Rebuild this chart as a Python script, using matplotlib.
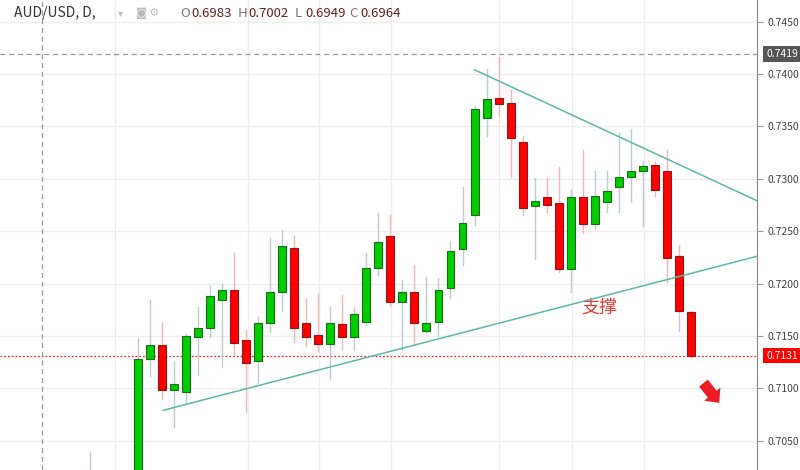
import matplotlib.pyplot as plt
from matplotlib.patches import Rectangle

plt.rcParams['font.family'] = ['Noto Sans CJK SC', 'DejaVu Sans']

# daily candles, index 0 = first big green bar
idx = [-4] + list(range(47))
opens = [0.7000, 0.6950, 0.7128, 0.7141, 0.7098, 0.7096, 0.7149, 0.7158, 0.7184, 0.7194, 0.7146,
         0.7126, 0.7162, 0.7192, 0.7234, 0.7162, 0.7151, 0.7142, 0.7161, 0.7149, 0.7163,
         0.7215, 0.7245, 0.7182, 0.7192, 0.7155, 0.7163, 0.7196, 0.7233, 0.7265, 0.7358,
         0.7377, 0.7372, 0.7335, 0.7274, 0.7283, 0.7277, 0.7214, 0.7283, 0.7257, 0.7278,
         0.7292, 0.7302, 0.7307, 0.7313, 0.7307, 0.7226, 0.7173]
highs = [0.7039, 0.7148, 0.7184, 0.7162, 0.7126, 0.7152, 0.7178, 0.7198, 0.7200, 0.7229, 0.7156,
         0.7168, 0.7243, 0.7251, 0.7245, 0.7185, 0.7191, 0.7178, 0.7189, 0.7177, 0.7229,
         0.7267, 0.7265, 0.7203, 0.7218, 0.7206, 0.7205, 0.7241, 0.7292, 0.7369, 0.7405,
         0.7416, 0.7385, 0.7341, 0.7301, 0.7301, 0.7311, 0.7289, 0.7327, 0.7307, 0.7307,
         0.7344, 0.7347, 0.7317, 0.7316, 0.7327, 0.7237, 0.7174]
lows = [0.6990, 0.6940, 0.7112, 0.7090, 0.7063, 0.7086, 0.7113, 0.7149, 0.7120, 0.7132, 0.7077,
        0.7105, 0.7154, 0.7174, 0.7144, 0.7140, 0.7135, 0.7109, 0.7137, 0.7137, 0.7160,
        0.7208, 0.7179, 0.7137, 0.7141, 0.7153, 0.7150, 0.7186, 0.7218, 0.7256, 0.7341,
        0.7360, 0.7302, 0.7265, 0.7223, 0.7268, 0.7211, 0.7192, 0.7248, 0.7252, 0.7268,
        0.7268, 0.7278, 0.7255, 0.7284, 0.7201, 0.7155, 0.7129]
closes = [0.7020, 0.7128, 0.7141, 0.7098, 0.7104, 0.7150, 0.7158, 0.7188, 0.7194, 0.7143, 0.7124,
          0.7162, 0.7192, 0.7236, 0.7158, 0.7149, 0.7142, 0.7162, 0.7149, 0.7171, 0.7215,
          0.7240, 0.7182, 0.7192, 0.7162, 0.7162, 0.7194, 0.7231, 0.7258, 0.7367, 0.7376,
          0.7371, 0.7339, 0.7272, 0.7279, 0.7275, 0.7214, 0.7283, 0.7257, 0.7284, 0.7288,
          0.7302, 0.7307, 0.7312, 0.7289, 0.7224, 0.7174, 0.7131]

# hand-drawn trend lines (index, price)
upper_line = ([28.0, 51.5], [0.7404, 0.7279])
lower_line = ([2.1, 51.5], [0.7079, 0.7226])
month_lines = [-1.9, 9.15, 15.06, 21.05, 30.03, 36.1, 42.1]
price_ticks = [0.7050, 0.7100, 0.7150, 0.7200, 0.7250, 0.7300, 0.7350, 0.7400, 0.7450]
last_close = 0.7131
high_mark = 0.7419

fig = plt.figure(figsize=(8, 4.7), dpi=100)
ax = fig.add_axes([0, 0, 757 / 800, 1])
ax.set_xlim(-11.48, 51.5)
ax.set_ylim(0.7022, 0.74706)

for x in month_lines:
    ax.axvline(x, color="#eeeeee", lw=1, zorder=0)
for p in price_ticks:
    ax.axhline(p, color="#eeeeee", lw=1, zorder=0)

for i, o, h, l, c in zip(idx, opens, highs, lows, closes):
    up = c >= o
    wick = "#b8cdd6" if up else "#f7b5b5"
    face = "#00cc00" if up else "#ff0000"
    edge = "#1a6b1a" if up else "#8b1a1a"
    ax.plot([i, i], [l, h], color=wick, lw=1, zorder=2)
    ax.add_patch(Rectangle((i - 0.33, min(o, c)), 0.66, max(abs(c - o), 0.00004),
                           facecolor=face, edgecolor=edge, lw=0.8, zorder=3))

ax.plot(*upper_line, color="#5fb8a8", lw=1.1, zorder=4)
ax.plot(*lower_line, color="#5fb8a8", lw=1.1, zorder=4)

ax.axhline(high_mark, color="#999999", lw=0.9, ls=(0, (4, 3)), zorder=1)
ax.axhline(last_close, color="#e03030", lw=0.9, ls=(0, (1.5, 1.5)), zorder=1)
ax.axvline(-8.0, color="#999999", lw=0.9, ls=(0, (4, 3)), zorder=1)

ax.text(38.4, 0.7177, "支撑", color="#e53935", fontsize=13, ha="center", va="center")
ax.annotate("", xy=(48.5, 0.7084), xytext=(46.9, 0.7107),
            arrowprops=dict(arrowstyle="simple,head_length=0.8,head_width=1.5,tail_width=0.8",
                            color="#ee1c25", lw=0), zorder=5)

ax.yaxis.tick_right()
ax.set_yticks(price_ticks)
ax.set_yticklabels([f"{p:.4f}" for p in price_ticks])
ax.tick_params(axis="y", labelsize=7.5, colors="#444444", length=4, color="#999999")
ax.set_xticks([])
for s in ["top", "left", "bottom"]:
    ax.spines[s].set_visible(False)
ax.spines["right"].set_color("#888888")

ax.text(1.012, high_mark, f"{high_mark:.4f}", transform=ax.get_yaxis_transform(),
        fontsize=7.5, color="white", va="center", ha="left",
        bbox=dict(boxstyle="square,pad=0.25", fc="#555555", ec="none"))
ax.text(1.012, last_close, f"{last_close:.4f}", transform=ax.get_yaxis_transform(),
        fontsize=7.5, color="white", va="center", ha="left",
        bbox=dict(boxstyle="square,pad=0.25", fc="#ff0000", ec="none"))

fig.text(0.018, 0.972, "AUD/USD, D,", fontsize=10, color="#333333", va="center")
fig.text(0.148, 0.972, "▾", fontsize=7, color="#bbbbbb", va="center")
fig.text(0.170, 0.972, "◙ ⚙", fontsize=8, color="#bbbbbb", va="center")
header = [("O", "0.6983", 0.225), ("H", "0.7002", 0.297), ("L", "0.6949", 0.368), ("C", "0.6964", 0.436)]
for k, v, x in header:
    fig.text(x, 0.972, k, fontsize=9.5, color="#777777", va="center")
    fig.text(x + 0.014, 0.972, v, fontsize=9.5, color="#6b1e1e", va="center")

fig.savefig("out.png", dpi=100)
